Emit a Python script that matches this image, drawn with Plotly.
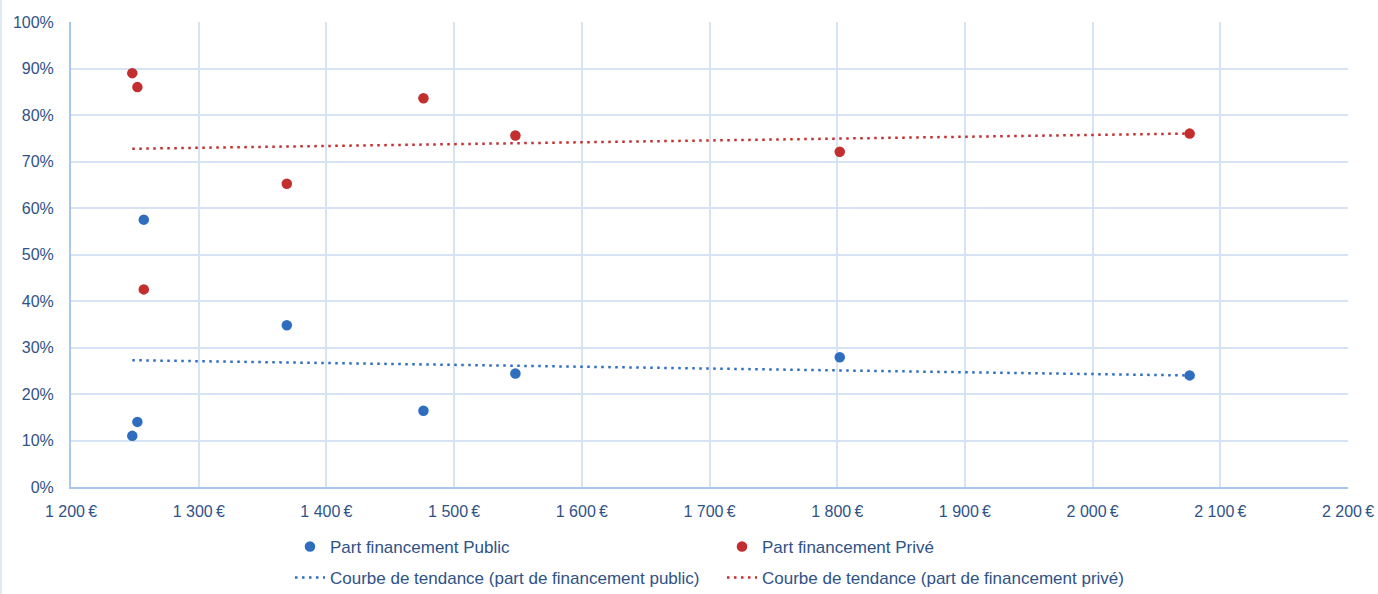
import numpy as np
import plotly.graph_objects as go

# Coût moyen (€) et parts de financement (%)
cout = [1248, 1252, 1257, 1369, 1476, 1548, 1802, 2076]
part_public = [11.0, 14.0, 57.5, 34.8, 16.4, 24.4, 27.9, 24.0]
part_prive = [89.0, 86.0, 42.5, 65.2, 83.6, 75.6, 72.1, 76.0]

x_min, x_max, x_step = 1200, 2200, 100
y_min, y_max, y_step = 0, 100, 10

BLUE = "#2F6EBF"
RED = "#C32E2E"
TEXT = "#2F5288"
GRID = "#D5E3F4"
AXIS = "#A7C7EC"
FONT = "Liberation Sans, Arial, sans-serif"

W, H = 1378, 594

# Droites de tendance linéaires (moindres carrés)
xs = np.array(cout, dtype=float)
x_line = np.array([xs.min(), xs.max()])
fit_pub = np.polyfit(xs, part_public, 1)
fit_pri = np.polyfit(xs, part_prive, 1)

fig = go.Figure()
fig.add_trace(go.Scatter(
    x=cout, y=part_public, mode="markers", name="Part financement Public",
    marker=dict(color=BLUE, size=10.5), legend="legend"))
fig.add_trace(go.Scatter(
    x=cout, y=part_prive, mode="markers", name="Part financement Privé",
    marker=dict(color=RED, size=10.5), legend="legend"))
fig.add_trace(go.Scatter(
    x=x_line, y=np.polyval(fit_pub, x_line), mode="lines",
    name="Courbe de tendance (part de financement public)",
    line=dict(color=BLUE, width=2.5, dash="2.5px,4.5px"), legend="legend2"))
fig.add_trace(go.Scatter(
    x=x_line, y=np.polyval(fit_pri, x_line), mode="lines",
    name="Courbe de tendance (part de financement privé)",
    line=dict(color=RED, width=2.5, dash="2.5px,4.5px"), legend="legend2"))

legend_common = dict(
    orientation="h", xanchor="left", yanchor="middle",
    xref="container", yref="container",
    entrywidth=387, entrywidthmode="pixels",
    font=dict(family=FONT, size=17, color=TEXT),
    bgcolor="rgba(0,0,0,0)", borderwidth=0,
)

fig.update_layout(
    width=W, height=H,
    margin=dict(l=71, r=30, t=22, b=107),
    paper_bgcolor="white", plot_bgcolor="white",
    separators=", ",
    font=dict(family=FONT, size=16, color=TEXT),
    showlegend=True,
    legend=dict(x=290 / W, y=1 - 547 / H, **legend_common),
    legend2=dict(x=290 / W, y=1 - 578 / H, **legend_common),
    xaxis=dict(
        range=[x_min, x_max], tickmode="linear", tick0=x_min, dtick=x_step,
        tickformat=",d", ticksuffix="\u2009€", automargin=False,
        showgrid=True, gridcolor=GRID, gridwidth=1.5,
        showline=True, linecolor=AXIS, linewidth=2,
        zeroline=False, ticks="", ticklabelstandoff=9,
        tickfont=dict(family=FONT, size=16, color=TEXT),
    ),
    yaxis=dict(
        range=[y_min, y_max], tickmode="linear", tick0=y_min, dtick=y_step,
        ticksuffix="%", automargin=False,
        showgrid=True, gridcolor=GRID, gridwidth=1.5,
        showline=True, linecolor=AXIS, linewidth=2,
        zeroline=False, ticks="", ticklabelstandoff=12,
        tickfont=dict(family=FONT, size=16, color=TEXT),
    ),
)

# Bordure gauche de la zone du graphique
fig.add_shape(type="line", xref="paper", yref="paper",
              x0=-70 / 1277, x1=-70 / 1277, y0=-107 / 465, y1=1 + 22 / 465,
              line=dict(color=GRID, width=1.5))

fig.write_html("out.html")
